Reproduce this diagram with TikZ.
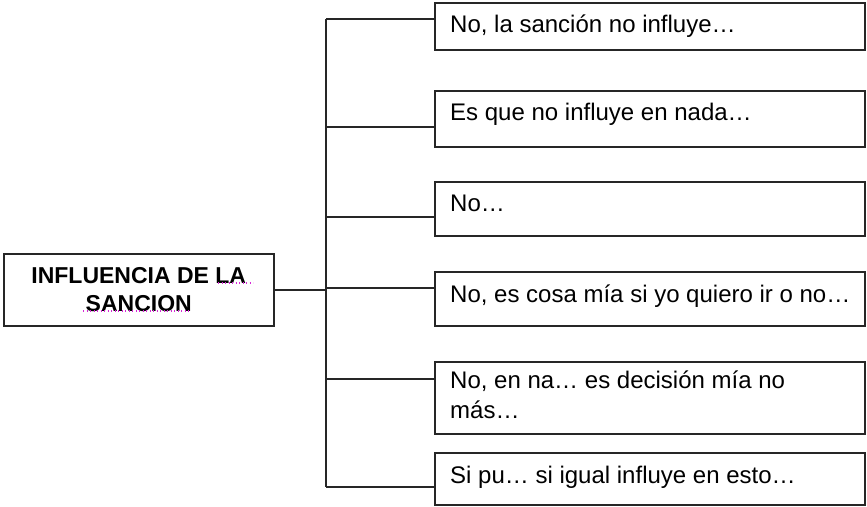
\documentclass[tikz,border=0pt]{standalone}
\usepackage{fontspec}
\setmainfont{Liberation Sans}
\usetikzlibrary{calc}
\definecolor{spellpink}{RGB}{214,40,214}
\begin{document}
\begin{tikzpicture}[x=1pt,y=-1pt,
  frame/.style={draw=black!85, line width=1.5pt, rectangle, inner sep=0pt, anchor=north west},
  wire/.style={draw=black!85, line width=1.5pt},
  lbl/.style={font=\fontsize{24}{29}\selectfont, anchor=base west, inner sep=0pt},
  spell/.style={draw=spellpink, line width=1.3pt, dash pattern=on 1.3pt off 2.2pt}]
\useasboundingbox[fill=white] (0,0) rectangle (867,506);
% root
\node[frame, minimum width=270pt, minimum height=72pt] (root) at (3,253) {};
\node[font=\bfseries\fontsize{23}{28}\selectfont, align=center, inner sep=0pt] (rootlbl) at (root.center) {INFLUENCIA DE LA\\SANCION};
\draw[spell] (218,283) -- (253,283);
\draw[spell] (83,311) -- (190,311);
% boxes
\node[frame, minimum width=430pt, minimum height=47pt] (b1) at (434,2) {};
\node[frame, minimum width=430pt, minimum height=56pt] (b2) at (434,90) {};
\node[frame, minimum width=430pt, minimum height=54pt] (b3) at (434,181) {};
\node[frame, minimum width=430pt, minimum height=54pt] (b4) at (434,271) {};
\node[frame, minimum width=430pt, minimum height=72pt] (b5) at (434,361) {};
\node[frame, minimum width=430pt, minimum height=52pt] (b6) at (434,452) {};
% labels
\node[lbl] (t1) at ($(b1.north west)+(16,30)$) {No, la sanción no influye…};
\node[lbl] (t2) at ($(b2.north west)+(16,30)$) {Es que no influye en nada…};
\node[lbl] (t3) at ($(b3.north west)+(16,30)$) {No…};
\node[lbl] (t4) at ($(b4.north west)+(16,31)$) {No, es cosa mía si yo quiero ir o no…};
\node[lbl] (t5) at ($(b5.north west)+(16,27)$) {No, en na… es decisión mía no};
\node[lbl] (t5b) at ($(b5.north west)+(16,57)$) {más…};
\node[lbl] (t6) at ($(b6.north west)+(16,31)$) {Si pu… si igual influye en esto…};
% connectors
\coordinate (j1) at (326,19);
\coordinate (j2) at (326,127);
\coordinate (j3) at (326,217);
\coordinate (j4) at (326,288);
\coordinate (j5) at (326,379);
\coordinate (j6) at (326,487);
\draw[wire] (j1) -- (j6);
\draw[wire] (root.east) -- (root.east -| j1);
\draw[wire] (j1) -- (j1 -| b1.west);
\draw[wire] (j2) -- (j2 -| b2.west);
\draw[wire] (j3) -- (j3 -| b3.west);
\draw[wire] (j4) -- (j4 -| b4.west);
\draw[wire] (j5) -- (j5 -| b5.west);
\draw[wire] (j6) -- (j6 -| b6.west);
\end{tikzpicture}
\end{document}
